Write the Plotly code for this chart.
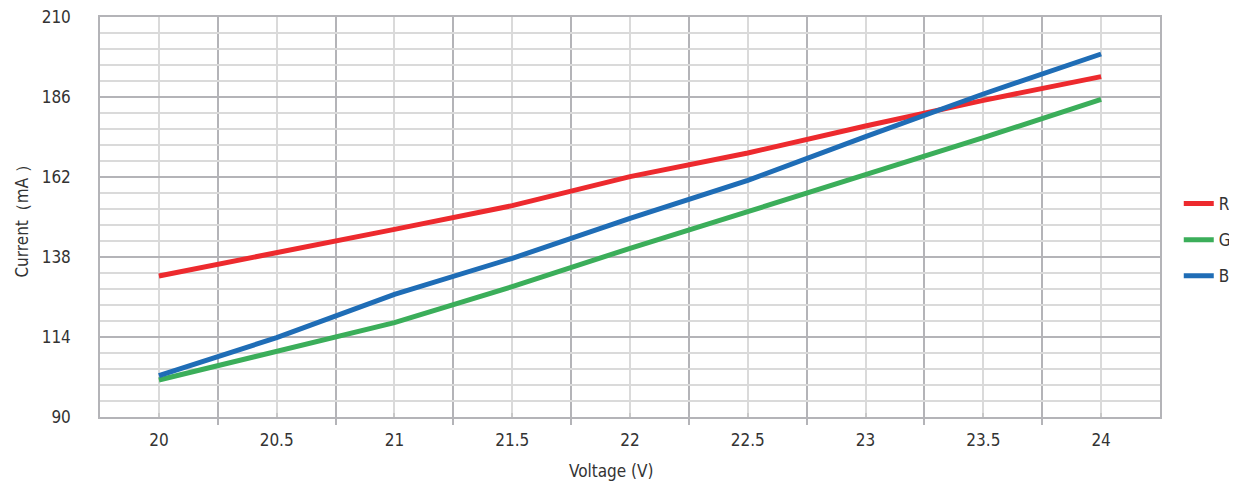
import plotly.graph_objects as go

voltage = [20, 20.5, 21, 21.5, 22, 22.5, 23, 23.5, 24]
current_r = [132.3, 139.2, 146.3, 153.4, 162.1, 169.2, 177.3, 185.0, 192.1]
current_g = [101.1, 109.6, 118.3, 129.1, 140.6, 151.6, 162.6, 173.8, 185.3]
current_b = [102.4, 113.8, 126.8, 137.6, 149.6, 161.0, 174.1, 186.9, 198.9]
series_names = ["R", "G", "B"]
series_colors = ["#ED2A2E", "#3BAE5A", "#1F6DB6"]
y_ticks = [90, 114, 138, 162, 186, 210]
x_ticks = voltage

FONT = "Liberation Sans Narrow, DejaVu Sans Condensed, Arial Narrow, sans-serif"

fig = go.Figure()
for name, vals, col in zip(series_names, [current_r, current_g, current_b], series_colors):
    fig.add_trace(go.Scatter(
        x=voltage, y=vals, mode="lines", name=name, legendgroup=name,
        line=dict(color=col, width=5),
    ))

fig.update_layout(
    width=1237, height=488,
    margin=dict(l=92, r=85, t=9, b=79, autoexpand=False),
    paper_bgcolor="white", plot_bgcolor="white",
    font=dict(family=FONT, size=17, color="#333333"),
    showlegend=True,
    legend=dict(x=1.0177, y=0.4425, xanchor="left", yanchor="middle",
                font=dict(family=FONT, size=17, color="#333333"),
                tracegroupgap=11, itemwidth=30, bgcolor="rgba(0,0,0,0)"),
    xaxis=dict(
        range=[19.75, 24.25], tickvals=x_ticks, ticktext=[f"{v:g}" for v in x_ticks],
        showgrid=True, gridcolor="#DADADA", gridwidth=1.5,
        ticks="inside", ticklen=4, tickcolor="#C8C8C8", tickwidth=1.5,
        minor=dict(tick0=19.75, dtick=0.5, showgrid=True, gridcolor="#B4B4B8", gridwidth=1.5,
                   ticks="outside", ticklen=6, tickcolor="#B4B4B8", tickwidth=1.5),
        showline=True, linecolor="#B4B4B8", linewidth=1.5, mirror=True,
        zeroline=False, ticklabelstandoff=7, automargin=False, ticklabeloverflow="allow",
        tickfont=dict(family=FONT, size=17, color="#333333"),
    ),
    yaxis=dict(
        range=[90, 210], tickvals=y_ticks,
        showgrid=True, gridcolor="#B4B4B8", gridwidth=1.5,
        minor=dict(tick0=90, dtick=4.8, showgrid=True, gridcolor="#DADADA", gridwidth=1.5),
        ticks="", showline=True, linecolor="#B4B4B8", linewidth=1.5, mirror=True,
        zeroline=False, ticklabelstandoff=24, automargin=False, ticklabeloverflow="allow",
        tickfont=dict(family=FONT, size=17, color="#333333"),
    ),
    annotations=[
        dict(text="Voltage (V)", xref="paper", yref="paper", x=0.483, y=-0.135,
             xanchor="center", yanchor="middle", showarrow=False,
             font=dict(family=FONT, size=17, color="#333333")),
        dict(text="Current（mA ）", xref="paper", yref="paper", x=-0.074, y=0.5,
             xanchor="center", yanchor="middle", showarrow=False, textangle=-90,
             font=dict(family=FONT, size=17, color="#333333")),
    ],
)

fig.write_html("out.html")
